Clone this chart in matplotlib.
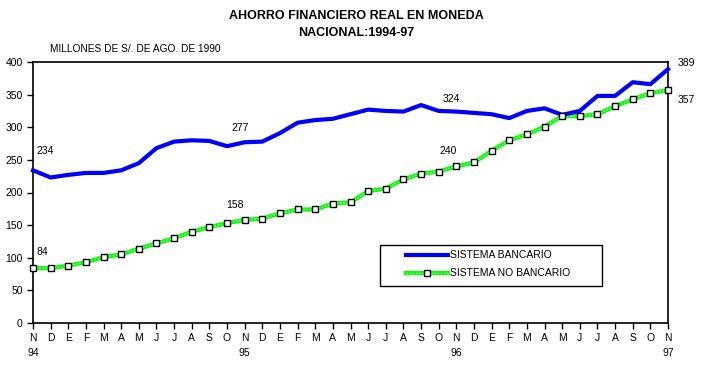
import numpy as np
import matplotlib
matplotlib.use("Agg")
from matplotlib import pyplot as plt
from matplotlib.lines import Line2D
from matplotlib.patches import Rectangle

plt.rcParams['font.family'] = ['Liberation Sans', 'DejaVu Sans']

# months Nov-94 .. Nov-97
months = ["N", "D", "E", "F", "M", "A", "M", "J", "J", "A", "S", "O"] * 3 + ["N"]
years = {0: "94", 12: "95", 24: "96", 36: "97"}

bancario = [234, 223, 227, 230, 230, 234, 245, 268, 278, 280, 279, 271,
            277, 278, 291, 307, 311, 313, 320, 327, 325, 324, 334, 325,
            324, 322, 320, 314, 325, 329, 319, 325, 348, 348, 369, 366,
            389]
no_bancario = [84, 84, 88, 93, 101, 105, 114, 122, 130, 140, 147, 153,
               158, 160, 168, 174, 174, 183, 185, 202, 206, 220, 229, 232,
               240, 246, 264, 280, 289, 301, 317, 317, 320, 332, 343, 352,
               357]

x = np.arange(len(months))

fig = plt.figure(figsize=(7.13, 3.69), dpi=100)
ax = fig.add_axes([33/713, 46/369, 635/713, 261/369])

ax.plot(x, bancario, color="#0000ff", lw=3, zorder=3, clip_on=False)
# green chain-looking line: lime base with white dots on top
ax.plot(x, no_bancario, color="#00ff00", lw=3, zorder=2, clip_on=False)
ax.plot(x, no_bancario, color="white", lw=0.9, ls=(0, (1, 1.5)), zorder=2,
        clip_on=False)
ax.plot(x, no_bancario, ls="none", marker="s", ms=4.8, mfc="white",
        mec="black", mew=1.0, zorder=4, clip_on=False)

# value labels (offsets in pixels from the point)
lab_b = {0: (12, 19), 12: (-5, 14), 24: (-5, 13), 36: (18, 6)}
lab_nb = {0: (9, 16), 12: (-10, 15), 24: (-8, 15), 36: (18, -10)}
for i, off in lab_b.items():
    ax.annotate(str(bancario[i]), (x[i], bancario[i]), xytext=off,
                textcoords="offset pixels", ha="center", va="center",
                fontsize=7.5, annotation_clip=False)
for i, off in lab_nb.items():
    ax.annotate(str(no_bancario[i]), (x[i], no_bancario[i]), xytext=off,
                textcoords="offset pixels", ha="center", va="center",
                fontsize=7.5, annotation_clip=False)

ax.set_xlim(0, 36)
ax.set_ylim(0, 400)
ax.set_yticks(range(0, 401, 50))
ax.set_xticks(x)
ax.set_xticklabels(months)
ax.tick_params(axis="both", labelsize=7.5, length=4, width=1, direction="out")
ax.tick_params(axis="x", pad=3)
for sp in ax.spines.values():
    sp.set_linewidth(1.2)

for i, yr in years.items():
    ax.annotate(yr, (x[i], 0), xytext=(0, -30), textcoords="offset pixels",
                ha="center", va="center", fontsize=7.5, annotation_clip=False)

# legend box, drawn by hand in figure pixels
W, H = 713, 369
fig.patches.append(Rectangle((380/W, 1 - 286/H), 222/W, 41/H,
                             transform=fig.transFigure, fill=False,
                             edgecolor="black", lw=1.0))
y1, y2 = 1 - 255/H, 1 - 273/H
fig.add_artist(Line2D([406/W, 448/W], [y1, y1], color="#0000ff", lw=3))
fig.add_artist(Line2D([406/W, 448/W], [y2, y2], color="#00ff00", lw=3))
fig.add_artist(Line2D([406/W, 448/W], [y2, y2], color="white", lw=0.9,
                      ls=(0, (1, 1.5))))
fig.add_artist(Line2D([427/W], [y2], ls="none", marker="s", ms=4.8,
                      mfc="white", mec="black", mew=1.0))
fig.text(450/W, y1, "SISTEMA BANCARIO", ha="left", va="center", fontsize=7.5)
fig.text(450/W, y2, "SISTEMA NO BANCARIO", ha="left", va="center",
         fontsize=7.5)

fig.text(0.5, 1 - 16/H, "AHORRO FINANCIERO REAL EN MONEDA",
         ha="center", va="center", fontsize=9, fontweight="bold")
fig.text(0.5, 1 - 33/H, "NACIONAL:1994-97",
         ha="center", va="center", fontsize=9, fontweight="bold")
fig.text(50/W, 1 - 49/H, "MILLONES DE S/. DE AGO. DE 1990",
         ha="left", va="center", fontsize=7.3)

fig.savefig("out.png", dpi=100)
